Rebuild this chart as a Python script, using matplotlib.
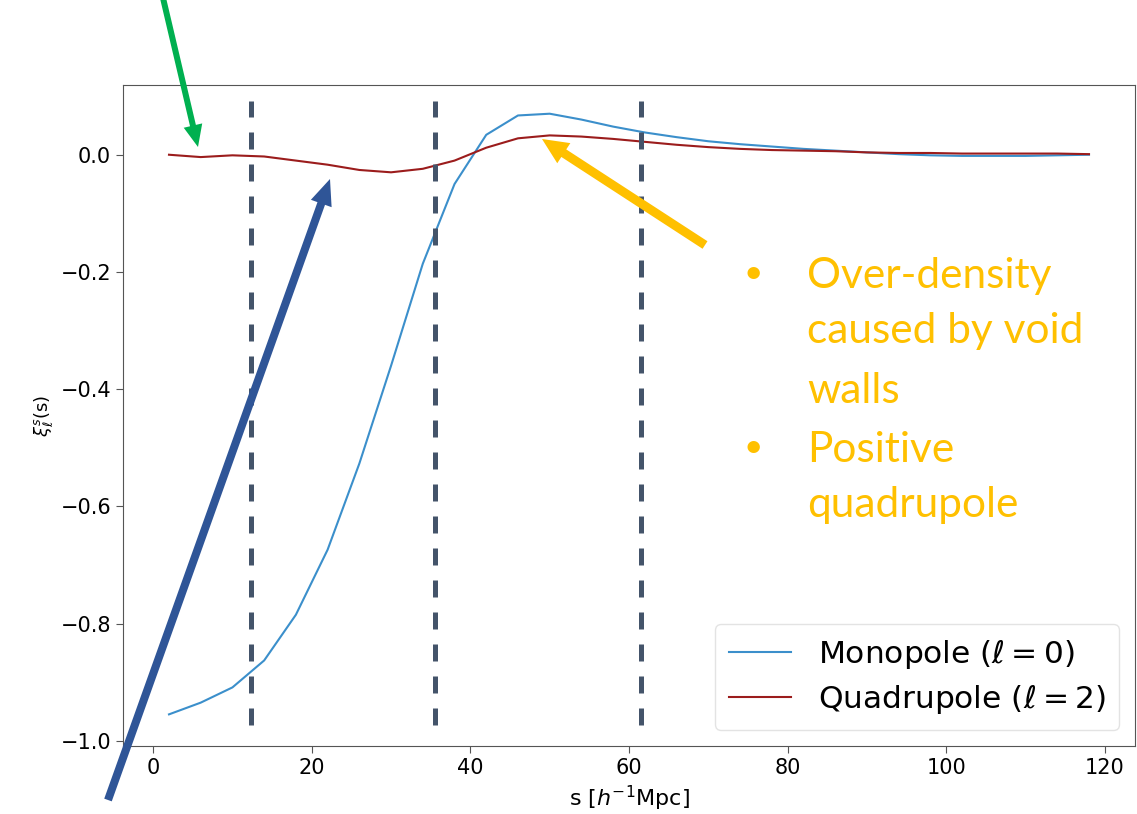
import numpy as np
import matplotlib.pyplot as plt
from matplotlib.patches import FancyArrow
from matplotlib.transforms import IdentityTransform

# multipoles of the void-galaxy cross-correlation
s = np.arange(2, 119, 4)
monopole = [-0.955, -0.935, -0.909, -0.863, -0.785, -0.674, -0.527, -0.360,
            -0.186, -0.050, 0.034, 0.067, 0.070, 0.060, 0.048, 0.038,
            0.030, 0.023, 0.018, 0.014, 0.010, 0.007, 0.004, 0.001,
            -0.001, -0.002, -0.002, -0.002, -0.001, 0.000]
quadrupole = [0.000, -0.004, -0.001, -0.003, -0.010, -0.017, -0.026, -0.030,
              -0.024, -0.010, 0.012, 0.028, 0.033, 0.031, 0.027, 0.022,
              0.017, 0.013, 0.010, 0.008, 0.007, 0.006, 0.004, 0.003,
              0.003, 0.002, 0.002, 0.002, 0.002, 0.001]

# radii marking the void regions
r_marks = [12.35, 35.6, 61.5]

bullets = [['Over-density', 'caused by void', 'walls'],
           ['Positive', 'quadrupole']]

W, H = 1137, 814
fig = plt.figure(figsize=(W / 100, H / 100), dpi=100)
ax = fig.add_axes([123 / W, 1 - 746 / H, (1135 - 123) / W, (746 - 85) / H])

ax.plot(s, monopole, color='#3b8fcb', lw=1.5, label=r'Monopole ($\ell=0$)')
ax.plot(s, quadrupole, color='#9b1c1c', lw=1.5, label=r'Quadrupole ($\ell=2)$')
ax.vlines(r_marks, -0.973, 0.091, colors='#44546A', lw=3.6,
          linestyles=[(0, (3.4, 3.0))])

ax.set_xlim(-3.8, 123.8)
ax.set_ylim(-1.009, 0.119)
ax.set_xticks([0, 20, 40, 60, 80, 100, 120])
ax.set_yticks([-1.0, -0.8, -0.6, -0.4, -0.2, 0.0])
ax.tick_params(labelsize=15, color='#555555', length=5)
for sp in ax.spines.values():
    sp.set_color('#555555')
ax.set_xlabel(r's [$h^{-1}$Mpc]', fontsize=16)
ax.set_ylabel(r'$\xi^s_\ell$(s)', fontsize=13)

leg = ax.legend(loc='lower right', fontsize=22.5, borderaxespad=0.5,
                handlelength=2.0, handletextpad=0.85, borderpad=0.45,
                labelspacing=0.4)
leg.get_frame().set_edgecolor('#dddddd')


def arrow(x0, y0, x1, y1, color, width, head_w, head_l):
    # coordinates in figure pixels measured from the top-left corner
    a = FancyArrow(x0, H - y0, x1 - x0, -(y1 - y0), width=width,
                   head_width=head_w, head_length=head_l,
                   length_includes_head=True, color=color, lw=0,
                   transform=IdentityTransform())
    fig.add_artist(a)


arrow(163, -2, 198, 147, '#00B050', 6, 19, 22)
arrow(108, 800, 330, 179, '#2F5597', 8, 22, 26)
arrow(705, 245, 542, 139, '#FFC000', 9, 24, 26)

ylines = [288, 343, 403, 462, 517]
k = 0
for group in bullets:
    fig.text(753 / W, 1 - (ylines[k] - 5) / H, u'\u2022', color='#FFC000',
             fontsize=24, family='Lato', ha='center', va='baseline')
    for line in group:
        fig.text(807 / W, 1 - ylines[k] / H, line, color='#FFC000',
                 fontsize=30.5, family='Lato', va='baseline')
        k += 1

fig.savefig('out.png', dpi=100)
